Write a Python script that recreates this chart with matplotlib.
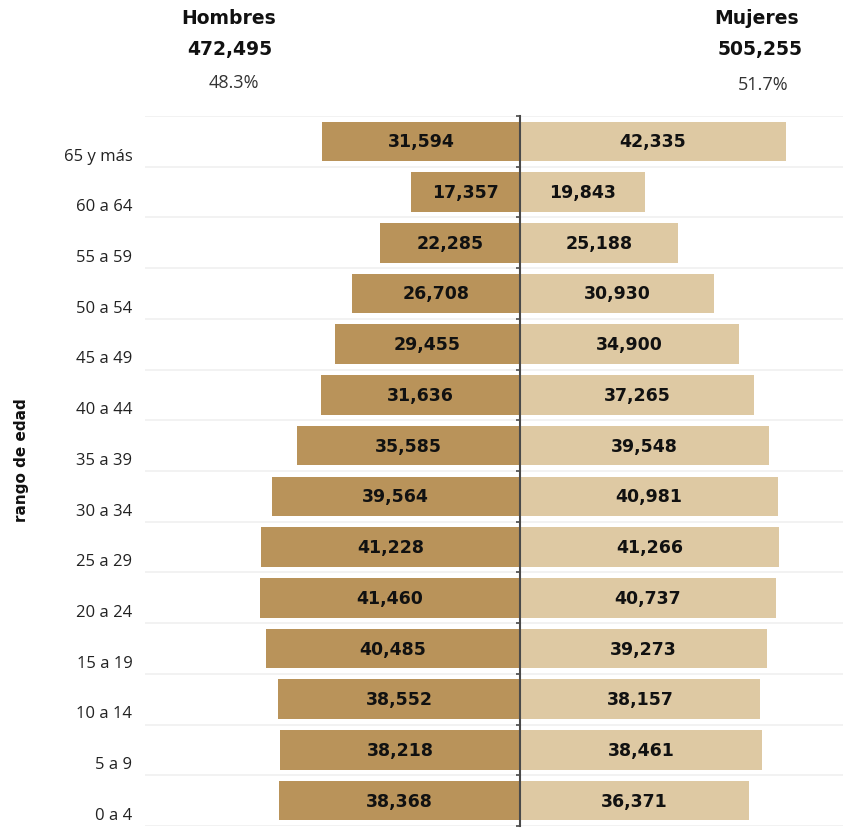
import numpy as np
import matplotlib
matplotlib.use('Agg')
import matplotlib.pyplot as plt

# ────────────────────────────────
# Datos

grupos = ['0 a 4', '5 a 9', '10 a 14', '15 a 19', '20 a 24', '25 a 29', '30 a 34',
          '35 a 39', '40 a 44', '45 a 49', '50 a 54', '55 a 59', '60 a 64', '65 y más']
hombres = [38368, 38218, 38552, 40485, 41460, 41228, 39564,
           35585, 31636, 29455, 26708, 22285, 17357, 31594]
mujeres = [36371, 38461, 38157, 39273, 40737, 41266, 40981,
           39548, 37265, 34900, 30930, 25188, 19843, 42335]

tot_h = '472,495'
tot_m = '505,255'
pct_h = '48.3%'
pct_m = '51.7%'

# ────────────────────────────────
# Estilo

c_hom = '#b9935a'
c_muj = '#dec9a3'
c_eje = '#4a4a4a'
c_grid = '#f0f0f0'
f_neg = ['DejaVu Sans']  # números y encabezados, anchos y gruesos

plt.rcParams['font.family'] = ['Open Sans', 'DejaVu Sans']

fig = plt.figure(figsize=(8.43, 8.29), dpi=100)
ax = fig.add_axes([0.172, 0.0024, 0.828, 0.8565])

y = np.arange(len(grupos))
ax.barh(y, [-v for v in hombres], height=0.78, color=c_hom)
ax.barh(y, mujeres, height=0.78, color=c_muj)

for i in range(len(grupos)):
    ax.text(-hombres[i] / 2, y[i], f'{hombres[i]:,}', ha='center', va='center',
            fontsize=12.5, fontweight='bold', color='#111111', family=f_neg)
    ax.text(mujeres[i] / 2, y[i], f'{mujeres[i]:,}', ha='center', va='center',
            fontsize=12.5, fontweight='bold', color='#111111', family=f_neg)
    ax.text(-0.018, i - 0.28, grupos[i], transform=ax.get_yaxis_transform(),
            ha='right', va='center', fontsize=12, color='#222222')

ax.set_xlim(-59700, 51400)
ax.set_ylim(-0.5, len(grupos) - 0.5)

# líneas horizontales entre grupos
for b in np.arange(-0.5, len(grupos), 1.0):
    ax.axhline(b, color=c_grid, lw=1.2, zorder=0)

# eje central con marcas pequeñas
for s in ['top', 'right', 'bottom']:
    ax.spines[s].set_visible(False)
ax.spines['left'].set_position(('data', 0))
ax.spines['left'].set_color(c_eje)
ax.spines['left'].set_linewidth(1.5)
ax.spines['left'].set_zorder(5)
ax.set_yticks(np.arange(-0.5, len(grupos), 1.0))
ax.set_yticklabels([])
ax.tick_params(axis='y', length=3, width=1.2, color=c_eje, direction='out')
ax.set_xticks([])

fig.text(0.026, 1 - 460 / 829, 'rango de edad', rotation=90, ha='center', va='center',
         fontsize=11, fontweight='bold', color='#111111', family=f_neg)

# encabezados
fig.text(229 / 843, 1 - 18 / 829, 'Hombres', ha='center', va='center',
         fontsize=13.5, fontweight='bold', color='#111111', family=f_neg)
fig.text(230 / 843, 1 - 49 / 829, tot_h, ha='center', va='center',
         fontsize=13.5, fontweight='bold', color='#111111', family=f_neg)
fig.text(234 / 843, 1 - 83 / 829, pct_h, ha='center', va='center',
         fontsize=13, color='#333333')
fig.text(757 / 843, 1 - 18 / 829, 'Mujeres', ha='center', va='center',
         fontsize=13.5, fontweight='bold', color='#111111', family=f_neg)
fig.text(760 / 843, 1 - 49 / 829, tot_m, ha='center', va='center',
         fontsize=13.5, fontweight='bold', color='#111111', family=f_neg)
fig.text(763 / 843, 1 - 85 / 829, pct_m, ha='center', va='center',
         fontsize=13, color='#333333')

fig.savefig('out.png', dpi=100)
